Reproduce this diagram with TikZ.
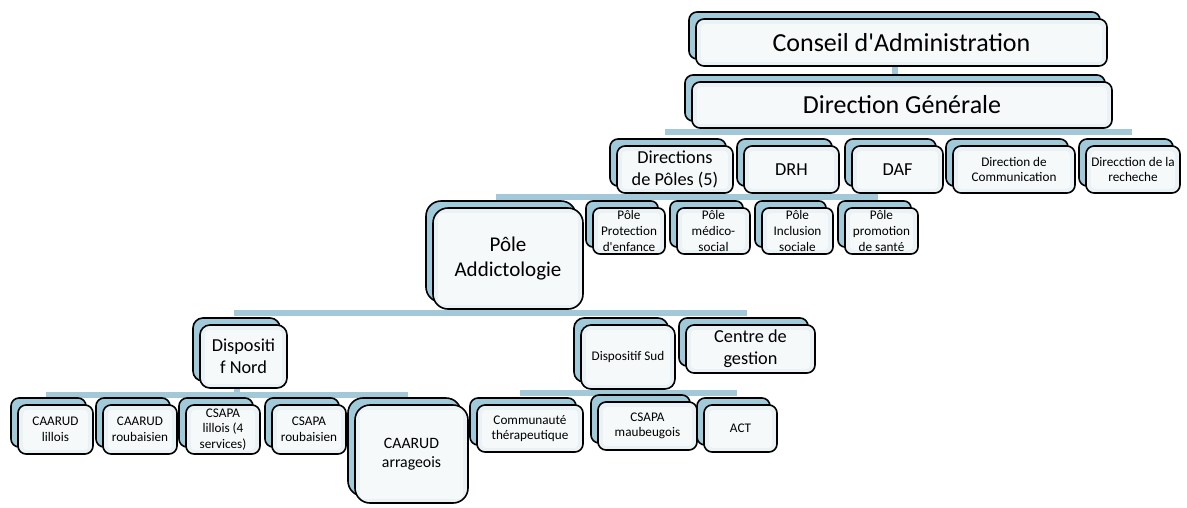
\documentclass[tikz,border=0pt]{standalone}
\usepackage{fontspec}
\setmainfont{Carlito}
\usetikzlibrary{shadows,backgrounds}
\definecolor{frontc}{RGB}{234,242,246}
\definecolor{backc}{RGB}{160,202,218}
\definecolor{connc}{RGB}{163,201,216}
\tikzset{
  box/.style={draw=black, line width=1.6pt, fill=frontc, inner sep=0pt, align=center,
    general shadow={draw=black, line width=1.6pt, fill=backc, shadow xshift=-7pt, shadow yshift=7pt},
    path picture={\fill[white, opacity=0.55, rounded corners=4pt]
      ([shift={(5pt,4pt)}]path picture bounding box.south west) rectangle
      ([shift={(-5pt,-5pt)}]path picture bounding box.north east);}},
  f26/.style={font=\fontsize{26}{31.7}\selectfont},
  f21/.style={font=\fontsize{21}{25.6}\selectfont},
  f18/.style={font=\fontsize{18.3}{22}\selectfont},
  f16/.style={font=\fontsize{15.8}{19.3}\selectfont},
  f13/.style={font=\fontsize{13.2}{15.6}\selectfont},
  conn/.style={draw=connc, line width=6pt},
}
\begin{document}
\begin{tikzpicture}[x=1pt, y=-1pt]
\useasboundingbox (0,0) rectangle (1187,507);
% level 1-2
\node[box, f26, minimum width=411pt, minimum height=47pt, rounded corners=8pt] (conseil) at (901.5,42.5) {Conseil d\textquotesingle Administration};
\node[box, f26, minimum width=420pt, minimum height=46pt, rounded corners=8pt] (dg) at (902,105) {Direction Générale};
% level 3
\node[box, f18, minimum width=116pt, minimum height=47pt, rounded corners=8pt] (dirp) at (675,169.5) {Directions\\de Pôles (5)};
\node[box, f18, minimum width=95pt, minimum height=47pt, rounded corners=8pt] (drh) at (791.5,169.5) {DRH};
\node[box, f18, minimum width=91pt, minimum height=47pt, rounded corners=8pt] (daf) at (897.5,169.5) {DAF};
\node[box, f13, minimum width=122pt, minimum height=47pt, rounded corners=8pt] (dcom) at (1014,169.5) {Direction de\\Communication};
\node[box, f13, minimum width=94pt, minimum height=47pt, rounded corners=8pt] (drech) at (1133,169.5) {Direcction de la\\recheche};
% level 4
\node[box, f21, minimum width=150pt, minimum height=101pt, rounded corners=15pt] (addicto) at (508,258.5) {Pôle\\Addictologie};
\node[box, f13, minimum width=72pt, minimum height=46pt, rounded corners=7pt] (pprot) at (629,231) {Pôle\\Protection\\d\textquotesingle enfance};
\node[box, f13, minimum width=73pt, minimum height=46pt, rounded corners=7pt] (pmed) at (713.5,231) {Pôle\\médico-\\social};
\node[box, f13, minimum width=71pt, minimum height=46pt, rounded corners=7pt] (pincl) at (797.5,231) {Pôle\\Inclusion\\sociale};
\node[box, f13, minimum width=73pt, minimum height=46pt, rounded corners=7pt] (pprom) at (881.5,231) {Pôle\\promotion\\de santé};
% level 5
\node[box, f18, minimum width=87pt, minimum height=63pt, rounded corners=10pt] (nord) at (243.5,356.5) {Dispositi\\f Nord};
\node[box, f13, minimum width=94pt, minimum height=64pt, rounded corners=10pt] (sud) at (628,357) {Dispositif Sud};
\node[box, f18, minimum width=129pt, minimum height=48pt, rounded corners=8pt] (centre) at (750.5,349) {Centre de\\gestion};
% level 6 nord
\node[box, f13, minimum width=75pt, minimum height=49pt, rounded corners=8pt] (cl) at (55.5,429.5) {CAARUD\\lillois};
\node[box, f13, minimum width=74pt, minimum height=49pt, rounded corners=8pt] (cr) at (140,429.5) {CAARUD\\roubaisien};
\node[box, f13, minimum width=74pt, minimum height=49pt, rounded corners=8pt] (csl) at (223,429.5) {CSAPA\\lillois (4\\services)};
\node[box, f13, minimum width=74pt, minimum height=49pt, rounded corners=8pt] (csr) at (309,429.5) {CSAPA\\roubaisien};
\node[box, f16, minimum width=113pt, minimum height=98pt, rounded corners=15pt] (carr) at (411.5,454) {CAARUD\\arrageois};
% level 6 sud
\node[box, f13, minimum width=106pt, minimum height=47pt, rounded corners=8pt] (comm) at (530,428.5) {Communauté\\thérapeutique};
\node[box, f13, minimum width=99pt, minimum height=48pt, rounded corners=8pt] (csm) at (647.5,426) {CSAPA\\maubeugois};
\node[box, f13, minimum width=73pt, minimum height=47pt, rounded corners=8pt] (act) at (740.5,428.5) {ACT};
% connectors
\coordinate (b1) at (0,132);
\coordinate (b2) at (0,197);
\coordinate (b3) at (0,313);
\coordinate (b4) at (0,395);
\coordinate (b5) at (0,393);
\begin{scope}[on background layer]
\draw[conn] ([xshift=-7pt]conseil.south) -- ([xshift=-7pt]conseil.south |- dg.north);
% DG -> level 3
\draw[conn] ([xshift=-7pt]dg.south) -- ([xshift=-7pt]dg.south |- b1);
\draw[conn] ([xshift=-10pt]dirp.north |- b1) -- ([xshift=-1pt]drech.north |- b1);
% Directions de Poles -> level 4
\draw[conn] ([xshift=-7pt]dirp.south) -- ([xshift=-7pt]dirp.south |- b2);
\draw[conn] ([xshift=-12pt]addicto.north |- b2) -- ([xshift=-4pt]pprom.north |- b2);
% Addictologie -> level 5
\draw[conn] ([xshift=-7pt]addicto.south) -- ([xshift=-7pt]addicto.south |- b3);
\draw[conn] ([xshift=-10pt]nord.north |- b3) -- ([xshift=-4pt]centre.north |- b3);
% Dispositif Nord -> level 6
\draw[conn] ([xshift=-7pt]nord.south) -- ([xshift=-7pt]nord.south |- b4);
\draw[conn] ([xshift=-10pt]cl.north |- b4) -- ([xshift=-4pt]carr.north |- b4);
% Dispositif Sud -> level 6
\draw[conn] ([xshift=-7pt]sud.south) -- ([xshift=-7pt]sud.south |- b5);
\draw[conn] ([xshift=-10pt]comm.north |- b5) -- ([xshift=-4pt]act.north |- b5);
\end{scope}
\end{tikzpicture}
\end{document}
